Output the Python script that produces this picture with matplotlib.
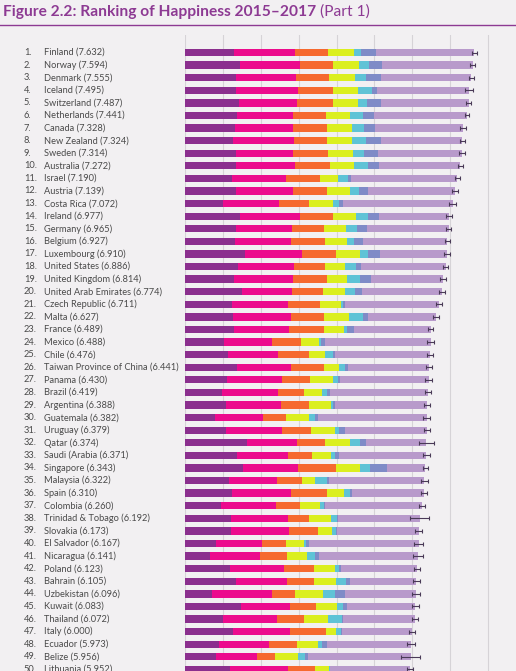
import matplotlib
matplotlib.use("Agg")
import matplotlib.pyplot as plt
from matplotlib.transforms import blended_transform_factory
import numpy as np

# countries (rank order) and happiness scores
countries = ["Finland", "Norway", "Denmark", "Iceland", "Switzerland", "Netherlands",
             "Canada", "New Zealand", "Sweden", "Australia", "Israel", "Austria",
             "Costa Rica", "Ireland", "Germany", "Belgium", "Luxembourg", "United States",
             "United Kingdom", "United Arab Emirates", "Czech Republic", "Malta", "France",
             "Mexico", "Chile", "Taiwan Province of China", "Panama", "Brazil", "Argentina",
             "Guatemala", "Uruguay", "Qatar", "Saudi (Arabia", "Singapore", "Malaysia",
             "Spain", "Colombia", "Trinidad & Tobago", "Slovakia", "El Salvador",
             "Nicaragua", "Poland", "Bahrain", "Uzbekistan", "Kuwait", "Thailand", "Italy",
             "Ecuador", "Belize", "Lithuania"]
scores = [7.632, 7.594, 7.555, 7.495, 7.487, 7.441, 7.328, 7.324, 7.314, 7.272,
          7.190, 7.139, 7.072, 6.977, 6.965, 6.927, 6.910, 6.886, 6.814, 6.774,
          6.711, 6.627, 6.489, 6.488, 6.476, 6.441, 6.430, 6.419, 6.388, 6.382,
          6.379, 6.374, 6.371, 6.343, 6.322, 6.310, 6.260, 6.192, 6.173, 6.167,
          6.141, 6.123, 6.105, 6.096, 6.083, 6.072, 6.000, 5.973, 5.956, 5.952]

# explained-by components
gdp = [1.305, 1.456, 1.351, 1.343, 1.420, 1.361, 1.330, 1.268, 1.355, 1.340,
       1.244, 1.341, 1.010, 1.448, 1.340, 1.324, 1.576, 1.398, 1.301, 1.503,
       1.233, 1.270, 1.293, 1.038, 1.131, 1.365, 1.112, 0.986, 1.073, 0.781,
       1.093, 1.649, 1.379, 1.529, 1.161, 1.251, 0.960, 1.223, 1.210, 0.806,
       0.668, 1.176, 1.338, 0.719, 1.474, 1.016, 1.264, 0.889, 0.807, 1.197]
social = [1.592, 1.582, 1.590, 1.644, 1.549, 1.488, 1.532, 1.601, 1.501, 1.573,
          1.433, 1.504, 1.459, 1.583, 1.474, 1.483, 1.520, 1.471, 1.559, 1.310,
          1.489, 1.525, 1.466, 1.252, 1.331, 1.436, 1.438, 1.474, 1.468, 1.268,
          1.459, 1.303, 1.331, 1.451, 1.258, 1.538, 1.439, 1.492, 1.537, 1.231,
          1.319, 1.448, 1.366, 1.584, 1.301, 1.417, 1.501, 1.330, 1.101, 1.527]
health = [0.874, 0.861, 0.868, 0.914, 0.927, 0.878, 0.896, 0.876, 0.913, 0.910,
          0.888, 0.891, 0.817, 0.876, 0.861, 0.894, 0.896, 0.819, 0.883, 0.825,
          0.854, 0.884, 0.908, 0.761, 0.808, 0.857, 0.759, 0.675, 0.744, 0.608,
          0.771, 0.748, 0.633, 1.008, 0.669, 0.965, 0.635, 0.564, 0.776, 0.639,
          0.700, 0.781, 0.698, 0.605, 0.675, 0.707, 0.946, 0.736, 0.474, 0.716]
freedom = [0.681, 0.686, 0.683, 0.677, 0.660, 0.638, 0.653, 0.669, 0.659, 0.647,
           0.464, 0.617, 0.632, 0.614, 0.586, 0.583, 0.632, 0.547, 0.533, 0.598,
           0.543, 0.645, 0.520, 0.479, 0.431, 0.418, 0.597, 0.493, 0.570, 0.604,
           0.625, 0.654, 0.509, 0.631, 0.356, 0.449, 0.531, 0.575, 0.354, 0.461,
           0.527, 0.546, 0.594, 0.724, 0.554, 0.637, 0.281, 0.556, 0.593, 0.350]
generosity = [0.202, 0.286, 0.284, 0.353, 0.256, 0.333, 0.321, 0.365, 0.285, 0.361,
              0.262, 0.242, 0.143, 0.307, 0.273, 0.188, 0.196, 0.291, 0.354, 0.262,
              0.064, 0.376, 0.098, 0.069, 0.197, 0.151, 0.125, 0.110, 0.062, 0.179,
              0.130, 0.256, 0.098, 0.261, 0.311, 0.142, 0.099, 0.171, 0.118, 0.065,
              0.208, 0.108, 0.243, 0.328, 0.167, 0.364, 0.137, 0.114, 0.183, 0.026]
corruption = [0.393, 0.340, 0.408, 0.138, 0.357, 0.295, 0.291, 0.389, 0.383, 0.302,
              0.082, 0.224, 0.101, 0.306, 0.280, 0.240, 0.321, 0.133, 0.272, 0.182,
              0.034, 0.142, 0.176, 0.095, 0.061, 0.078, 0.063, 0.088, 0.054, 0.071,
              0.155, 0.171, 0.127, 0.457, 0.059, 0.074, 0.039, 0.019, 0.014, 0.082,
              0.128, 0.064, 0.123, 0.259, 0.106, 0.029, 0.028, 0.120, 0.089, 0.006]
ci_half = [0.065, 0.07, 0.065, 0.10, 0.07, 0.06, 0.08, 0.07, 0.07, 0.07,
           0.07, 0.08, 0.09, 0.08, 0.07, 0.07, 0.08, 0.07, 0.07, 0.08,
           0.08, 0.07, 0.07, 0.09, 0.08, 0.07, 0.09, 0.08, 0.08, 0.09,
           0.08, 0.20, 0.10, 0.07, 0.10, 0.07, 0.08, 0.25, 0.09, 0.11,
           0.13, 0.08, 0.09, 0.10, 0.10, 0.08, 0.08, 0.10, 0.25, 0.08]

comp_colors = ["#8b2f8e", "#ec0b8d", "#f6692f", "#dbef1f", "#5fc3d6", "#7f8bc7", "#b89acb"]
bg = "#f2f0f2"
purple = "#8d3a93"
txt = "#4a4a4a"

W, H = 516, 671
fig = plt.figure(figsize=(W / 100, H / 100), dpi=100, facecolor=bg)

x0, x8 = 185, 488
ppu = (x8 - x0) / 8.0
top_px, bot_px = 35, 671
row0, step = 52.5, 12.59
ax = fig.add_axes([x0 / W, 0, (W - x0) / W, (bot_px - top_px) / H])
ax.set_facecolor(bg)
ax.set_xlim(0, (W - x0) / ppu)
ax.set_ylim((bot_px - row0) / step, (top_px - row0) / step)

n = len(countries)
y = np.arange(n)
comps = [np.array(gdp), np.array(social), np.array(health), np.array(freedom),
         np.array(generosity), np.array(corruption)]
dyst = np.array(scores) - sum(comps)
comps.append(dyst)

left = np.zeros(n)
for vals, c in zip(comps, comp_colors):
    ax.barh(y, vals, left=left, height=0.58, color=c, linewidth=0, zorder=2)
    left = left + vals

ax.errorbar(scores, y, xerr=ci_half, fmt="none", ecolor="#4a3a57",
            elinewidth=0.8, capsize=1.6, capthick=0.8, zorder=3)

for gx in range(0, 9):
    ax.axvline(gx, color="#d6d3d7", linewidth=0.8, zorder=1)

for s in ax.spines.values():
    s.set_visible(False)
ax.set_xticks([])
ax.set_yticks([])

tr = blended_transform_factory(fig.transFigure, ax.transData)
for i, (c, sc) in enumerate(zip(countries, scores)):
    ax.text(24 / W, i, f"{i + 1}.", transform=tr, ha="left", va="center",
            fontsize=6.7, color=txt, family="Lato", zorder=5)
    ax.text(44 / W, i, f"{c} ({sc:.3f})", transform=tr, ha="left", va="center",
            fontsize=6.7, color=txt, family="Lato", zorder=5)

# title and rule
t = fig.text(3 / W, 1 - 12 / H, "Figure 2.2: Ranking of Happiness 2015\u20132017",
             ha="left", va="center", fontsize=11.2, fontweight="bold", color=purple,
             family="Lato")
fig.canvas.draw()
bb = t.get_window_extent()
fig.text((bb.x1 + 4) / W, 1 - 12 / H, "(Part 1)", ha="left", va="center",
         fontsize=11.2, color=purple, family="Lato")
fig.add_artist(plt.Line2D([0, 1], [1 - 25 / H, 1 - 25 / H], transform=fig.transFigure,
                          color=purple, linewidth=1.0))

fig.savefig("out.png", dpi=100, facecolor=bg)
